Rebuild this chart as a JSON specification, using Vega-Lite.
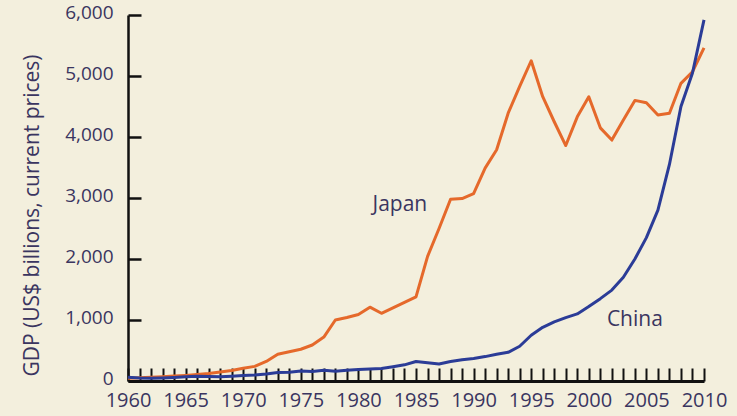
{
  "$schema": "https://vega.github.io/schema/vega-lite/v6.json",
  "width": 576,
  "height": 366,
  "autosize": "none",
  "padding": {"left": 128, "top": 15, "right": 33, "bottom": 35},
  "background": "#f3efdd",
  "config": {
    "view": {"stroke": null},
    "font": "Open Sans",
    "axis": {"grid": false, "domainColor": "#111111", "tickColor": "#111111", "labelColor": "#3a3560", "titleColor": "#3a3560", "labelFont": "Open Sans", "titleFont": "Open Sans"}
  },
  "data": {"values": [
    {"year": 1960, "country": "Japan", "gdp": 45}, {"year": 1961, "country": "Japan", "gdp": 55}, {"year": 1962, "country": "Japan", "gdp": 62}, {"year": 1963, "country": "Japan", "gdp": 70}, {"year": 1964, "country": "Japan", "gdp": 82}, {"year": 1965, "country": "Japan", "gdp": 92}, {"year": 1966, "country": "Japan", "gdp": 106}, {"year": 1967, "country": "Japan", "gdp": 124}, {"year": 1968, "country": "Japan", "gdp": 147}, {"year": 1969, "country": "Japan", "gdp": 172},
    {"year": 1970, "country": "Japan", "gdp": 210}, {"year": 1971, "country": "Japan", "gdp": 240}, {"year": 1972, "country": "Japan", "gdp": 320}, {"year": 1973, "country": "Japan", "gdp": 440}, {"year": 1974, "country": "Japan", "gdp": 480}, {"year": 1975, "country": "Japan", "gdp": 520}, {"year": 1976, "country": "Japan", "gdp": 590}, {"year": 1977, "country": "Japan", "gdp": 720}, {"year": 1978, "country": "Japan", "gdp": 1000}, {"year": 1979, "country": "Japan", "gdp": 1040},
    {"year": 1980, "country": "Japan", "gdp": 1090}, {"year": 1981, "country": "Japan", "gdp": 1210}, {"year": 1982, "country": "Japan", "gdp": 1110}, {"year": 1983, "country": "Japan", "gdp": 1200}, {"year": 1984, "country": "Japan", "gdp": 1290}, {"year": 1985, "country": "Japan", "gdp": 1380}, {"year": 1986, "country": "Japan", "gdp": 2040}, {"year": 1987, "country": "Japan", "gdp": 2500}, {"year": 1988, "country": "Japan", "gdp": 2980}, {"year": 1989, "country": "Japan", "gdp": 2990},
    {"year": 1990, "country": "Japan", "gdp": 3070}, {"year": 1991, "country": "Japan", "gdp": 3490}, {"year": 1992, "country": "Japan", "gdp": 3790}, {"year": 1993, "country": "Japan", "gdp": 4390}, {"year": 1994, "country": "Japan", "gdp": 4830}, {"year": 1995, "country": "Japan", "gdp": 5250}, {"year": 1996, "country": "Japan", "gdp": 4660}, {"year": 1997, "country": "Japan", "gdp": 4250}, {"year": 1998, "country": "Japan", "gdp": 3860}, {"year": 1999, "country": "Japan", "gdp": 4330},
    {"year": 2000, "country": "Japan", "gdp": 4660}, {"year": 2001, "country": "Japan", "gdp": 4150}, {"year": 2002, "country": "Japan", "gdp": 3950}, {"year": 2003, "country": "Japan", "gdp": 4280}, {"year": 2004, "country": "Japan", "gdp": 4600}, {"year": 2005, "country": "Japan", "gdp": 4560}, {"year": 2006, "country": "Japan", "gdp": 4360}, {"year": 2007, "country": "Japan", "gdp": 4390}, {"year": 2008, "country": "Japan", "gdp": 4880}, {"year": 2009, "country": "Japan", "gdp": 5070}, {"year": 2010, "country": "Japan", "gdp": 5460},
    {"year": 1960, "country": "China", "gdp": 60}, {"year": 1961, "country": "China", "gdp": 50}, {"year": 1962, "country": "China", "gdp": 47}, {"year": 1963, "country": "China", "gdp": 51}, {"year": 1964, "country": "China", "gdp": 59}, {"year": 1965, "country": "China", "gdp": 70}, {"year": 1966, "country": "China", "gdp": 76}, {"year": 1967, "country": "China", "gdp": 73}, {"year": 1968, "country": "China", "gdp": 70}, {"year": 1969, "country": "China", "gdp": 79},
    {"year": 1970, "country": "China", "gdp": 92}, {"year": 1971, "country": "China", "gdp": 99}, {"year": 1972, "country": "China", "gdp": 113}, {"year": 1973, "country": "China", "gdp": 139}, {"year": 1974, "country": "China", "gdp": 144}, {"year": 1975, "country": "China", "gdp": 163}, {"year": 1976, "country": "China", "gdp": 154}, {"year": 1977, "country": "China", "gdp": 175}, {"year": 1978, "country": "China", "gdp": 160}, {"year": 1979, "country": "China", "gdp": 178},
    {"year": 1980, "country": "China", "gdp": 190}, {"year": 1981, "country": "China", "gdp": 196}, {"year": 1982, "country": "China", "gdp": 205}, {"year": 1983, "country": "China", "gdp": 235}, {"year": 1984, "country": "China", "gdp": 265}, {"year": 1985, "country": "China", "gdp": 320}, {"year": 1986, "country": "China", "gdp": 300}, {"year": 1987, "country": "China", "gdp": 280}, {"year": 1988, "country": "China", "gdp": 320}, {"year": 1989, "country": "China", "gdp": 350},
    {"year": 1990, "country": "China", "gdp": 370}, {"year": 1991, "country": "China", "gdp": 400}, {"year": 1992, "country": "China", "gdp": 440}, {"year": 1993, "country": "China", "gdp": 470}, {"year": 1994, "country": "China", "gdp": 570}, {"year": 1995, "country": "China", "gdp": 750}, {"year": 1996, "country": "China", "gdp": 880}, {"year": 1997, "country": "China", "gdp": 970}, {"year": 1998, "country": "China", "gdp": 1040}, {"year": 1999, "country": "China", "gdp": 1100},
    {"year": 2000, "country": "China", "gdp": 1220}, {"year": 2001, "country": "China", "gdp": 1350}, {"year": 2002, "country": "China", "gdp": 1490}, {"year": 2003, "country": "China", "gdp": 1700}, {"year": 2004, "country": "China", "gdp": 2000}, {"year": 2005, "country": "China", "gdp": 2350}, {"year": 2006, "country": "China", "gdp": 2800}, {"year": 2007, "country": "China", "gdp": 3550}, {"year": 2008, "country": "China", "gdp": 4500}, {"year": 2009, "country": "China", "gdp": 5050}, {"year": 2010, "country": "China", "gdp": 5920}
  ]},
  "layer": [
    {
      "mark": {"type": "line", "strokeWidth": 3, "strokeJoin": "round"},
      "encoding": {
        "x": {"field": "year", "type": "quantitative",
          "scale": {"domain": [1960, 2010], "nice": false, "zero": false},
          "axis": {"title": null, "tickCount": 60, "values": [1960,1961,1962,1963,1964,1965,1966,1967,1968,1969,1970,1971,1972,1973,1974,1975,1976,1977,1978,1979,1980,1981,1982,1983,1984,1985,1986,1987,1988,1989,1990,1991,1992,1993,1994,1995,1996,1997,1998,1999,2000,2001,2002,2003,2004,2005,2006,2007,2008,2009,2010],
            "labelExpr": "datum.value % 5 === 0 ? datum.value : ''", "labelOverlap": false,
            "tickSize": -13, "tickWidth": 2, "domainWidth": 3, "labelFontSize": 20, "labelPadding": 22, "labelFlush": false}
        },
        "y": {"field": "gdp", "type": "quantitative",
          "scale": {"domain": [0, 6000], "nice": false},
          "axis": {"title": "GDP (US$ billions, current prices)", "values": [0,1000,2000,3000,4000,5000,6000], "format": ",.0f",
            "tickSize": -13, "tickWidth": 2.5, "domainWidth": 2.5, "labelFontSize": 19, "labelPadding": 28, "labelOffset": -3,
            "titleFontSize": 21, "titleFontWeight": "normal", "titleX": -90, "titleY": 200, "titleAnchor": "middle", "titleBaseline": "alphabetic"}
        },
        "color": {"field": "country", "type": "nominal", "scale": {"domain": ["Japan", "China"], "range": ["#e5692b", "#2b3c97"]}, "legend": null}
      }
    },
    {
      "data": {"values": [{"year": 1983.6, "gdp": 2885, "label": "Japan"}, {"year": 2004.0, "gdp": 1000, "label": "China"}]},
      "mark": {"type": "text", "fontSize": 21, "color": "#3a3560", "font": "Open Sans"},
      "encoding": {
        "x": {"field": "year", "type": "quantitative"},
        "y": {"field": "gdp", "type": "quantitative"},
        "text": {"field": "label"}
      }
    }
  ]
}
